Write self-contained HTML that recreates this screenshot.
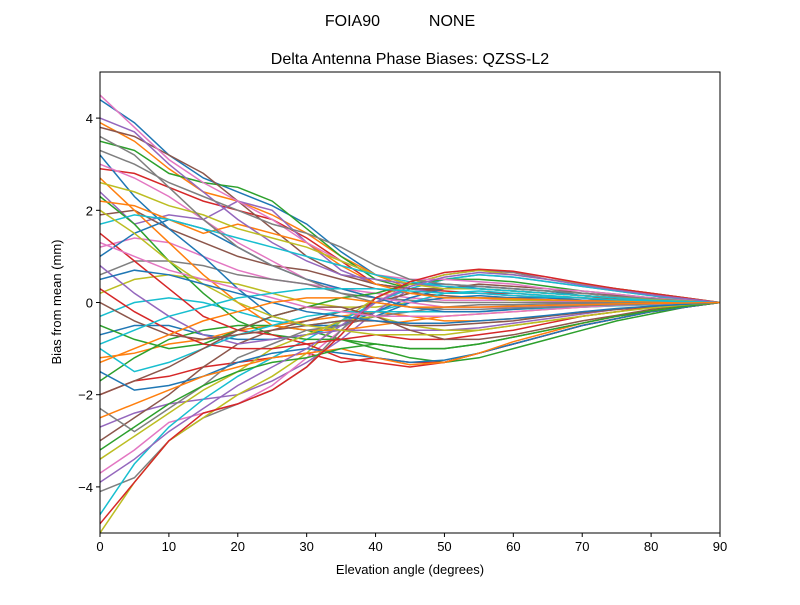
<!DOCTYPE html>
<html><head><meta charset="utf-8"><style>
body{margin:0;background:#fff}
svg text{font-family:"Liberation Sans","DejaVu Sans",sans-serif;fill:#000}
</style></head><body>
<svg id="chart" width="800" height="600" viewBox="0 0 800 600">
<rect width="800" height="600" fill="#fff"/>
<text x="400" y="26" font-size="16" text-anchor="middle" xml:space="preserve">FOIA90           NONE</text>
<text x="410" y="64" font-size="16" text-anchor="middle">Delta Antenna Phase Biases: QZSS-L2</text>
<defs><clipPath id="pc"><rect x="100" y="72" width="620" height="461"/></clipPath></defs>
<g id="lines" clip-path="url(#pc)"></g>
<rect x="100" y="72" width="620" height="461" fill="none" stroke="#000" stroke-width="1"/>
<g id="axes"></g>
<text x="410" y="574" font-size="13" text-anchor="middle">Elevation angle (degrees)</text>
<text transform="translate(61,302) rotate(-90)" font-size="13" text-anchor="middle">Bias from mean (mm)</text>
</svg>
<script>
const elevations=[0,5,10,15,20,25,30,35,40,45,50,55,60,65,70,75,80,85,90];
const xTicks=[0,10,20,30,40,50,60,70,80,90];
const yTicks=[-4,-2,0,2,4];
const s1=[4.4,3.9,3.2,2.7,2.4,2.1,1.7,1.1,0.6,0.4,0.4,0.35,0.3,0.25,0.2,0.15,0.1,0.05,0];
const s2=[3.9,3.5,2.9,2.4,2.2,1.9,1.5,1.0,0.6,0.3,0.2,0.2,0.15,0.1,0.1,0.05,0.05,0.02,0];
const s3=[3.5,3.3,2.8,2.6,2.5,2.2,1.6,1.0,0.5,0.3,0.3,0.3,0.25,0.2,0.15,0.1,0.05,0.02,0];
const s4=[2.9,2.8,2.5,2.2,2.0,1.8,1.4,0.9,0.4,0.3,0.25,0.2,0.2,0.15,0.1,0.08,0.05,0.02,0];
const s5=[2.4,1.7,1.9,1.8,2.2,2.0,1.3,0.7,0.4,0.3,0.2,0.2,0.15,0.1,0.1,0.05,0.03,0.01,0];
const s6=[1.9,2.0,1.6,1.3,1.0,0.8,0.7,0.5,0.3,0.2,0.15,0.1,0.1,0.1,0.05,0.05,0.02,0.01,0];
const s7=[1.2,1.4,1.3,1.0,0.7,0.5,0.4,0.3,0.2,0.1,0.05,0.05,0.05,0.03,0.02,0.01,0.01,0,0];
const s8=[0.6,0.9,0.9,0.8,0.6,0.5,0.4,0.2,0.1,0.05,0,0,0,0,0,0,0,0,0];
const s9=[0.2,0.5,0.6,0.5,0.4,0.2,0.0,-0.1,-0.1,0,0.1,0.1,0.05,0.05,0.05,0.02,0.01,0,0];
const s10=[-0.3,0.0,0.1,0.0,-0.2,-0.4,-0.5,-0.4,-0.2,0.0,0.2,0.25,0.2,0.15,0.1,0.05,0.03,0.01,0];
const s11=[-0.7,-0.5,-0.5,-0.7,-0.8,-0.8,-0.7,-0.5,-0.2,0.1,0.3,0.35,0.3,0.25,0.15,0.1,0.05,0.02,0];
const s12=[-1.2,-1.1,-0.9,-0.8,-0.6,-0.5,-0.4,-0.3,-0.2,-0.3,-0.4,-0.4,-0.35,-0.3,-0.2,-0.15,-0.1,-0.05,0];
const s13=[-1.7,-1.2,-0.8,-0.6,-0.5,-0.5,-0.6,-0.8,-1.0,-1.2,-1.3,-1.2,-1.0,-0.8,-0.6,-0.4,-0.25,-0.1,0];
const s14=[-2.0,-1.7,-1.6,-1.4,-1.3,-1.2,-1.1,-1.3,-1.2,-1.3,-1.3,-1.1,-0.9,-0.7,-0.5,-0.35,-0.2,-0.1,0];
const s15=[-2.7,-2.4,-2.2,-2.1,-2.0,-1.7,-1.3,-0.8,-0.2,0.3,0.5,0.6,0.55,0.45,0.35,0.25,0.15,0.05,0];
const s16=[-3.0,-2.5,-2.0,-1.4,-0.9,-0.6,-0.4,-0.2,0.0,0.2,0.3,0.4,0.35,0.3,0.2,0.15,0.1,0.05,0];
const s17=[-3.7,-3.2,-2.6,-2.4,-2.2,-1.8,-1.2,-0.6,0.0,0.4,0.6,0.7,0.65,0.55,0.4,0.3,0.2,0.1,0];
const s18=[-4.1,-3.8,-3.0,-2.5,-2.2,-1.9,-1.4,-0.6,0.1,0.4,0.6,0.7,0.65,0.5,0.4,0.3,0.2,0.1,0];
const s19=[-5.0,-3.9,-3.0,-2.5,-2.0,-1.6,-1.1,-0.4,0.1,0.4,0.6,0.7,0.6,0.5,0.4,0.3,0.2,0.1,0];
const s20=[-4.6,-3.5,-2.7,-2.1,-1.6,-1.2,-0.8,-0.4,0.0,0.3,0.5,0.6,0.55,0.45,0.35,0.25,0.15,0.07,0];
const s21=[3.2,2.3,1.6,1.0,0.3,-0.3,-0.5,-0.5,-0.3,0.0,0.1,0.15,0.1,0.1,0.05,0.05,0.02,0.01,0];
const s22=[2.7,2.0,1.3,0.6,0.0,-0.5,-0.6,-0.6,-0.5,-0.4,-0.3,-0.25,-0.2,-0.15,-0.1,-0.07,-0.05,-0.02,0];
const s23=[2.3,1.7,0.9,0.2,-0.4,-0.7,-0.8,-0.8,-0.9,-1.0,-1.0,-0.9,-0.75,-0.6,-0.45,-0.3,-0.2,-0.1,0];
const s24=[1.5,0.9,0.3,-0.3,-0.6,-0.7,-0.9,-1.2,-1.3,-1.4,-1.3,-1.1,-0.9,-0.7,-0.5,-0.35,-0.2,-0.1,0];
const s25=[0.8,0.2,-0.3,-0.7,-0.9,-0.8,-0.7,-0.6,-0.6,-0.6,-0.6,-0.55,-0.45,-0.35,-0.25,-0.15,-0.1,-0.05,0];
const s26=[3.8,3.6,3.2,2.8,2.2,1.6,1.0,0.6,0.4,0.3,0.3,0.3,0.25,0.2,0.15,0.1,0.05,0.02,0];
const s27=[3.0,2.7,2.3,1.8,1.3,0.9,0.5,0.3,0.1,0.0,-0.1,-0.1,-0.1,-0.08,-0.06,-0.04,-0.02,-0.01,0];
const s28=[-2.3,-2.8,-2.3,-1.8,-1.2,-0.9,-0.6,-0.5,-0.3,-0.2,-0.1,-0.05,-0.05,-0.03,-0.02,-0.01,0,0,0];
const s29=[-3.4,-2.9,-2.4,-1.9,-1.5,-1.0,-0.7,-0.4,-0.3,-0.5,-0.6,-0.6,-0.5,-0.4,-0.3,-0.2,-0.1,-0.05,0];
const s30=[-1.0,-1.5,-1.3,-1.0,-0.7,-0.5,-0.3,-0.2,-0.2,-0.2,-0.2,-0.2,-0.15,-0.12,-0.1,-0.07,-0.05,-0.02,0];
const s31=[1.0,1.5,1.8,1.6,1.2,0.8,0.5,0.3,0.1,-0.1,-0.2,-0.2,-0.15,-0.1,-0.08,-0.05,-0.03,-0.01,0];
const s32=[2.2,2.1,1.8,1.5,1.7,1.5,1.3,0.8,0.4,0.2,0.1,0.1,0.08,0.06,0.04,0.03,0.02,0.01,0];
const s33=[-0.5,-0.8,-1.0,-0.9,-0.6,-0.3,-0.1,0.1,0.2,0.4,0.5,0.5,0.45,0.35,0.25,0.18,0.1,0.05,0];
const s34=[0.3,-0.2,-0.6,-0.9,-1.0,-1.0,-0.9,-0.8,-0.7,-0.8,-0.8,-0.7,-0.6,-0.45,-0.3,-0.2,-0.1,-0.05,0];
const s35=[4.0,3.7,3.0,2.4,1.8,1.3,0.9,0.6,0.5,0.4,0.35,0.3,0.25,0.2,0.15,0.1,0.06,0.03,0];
const s36=[-2.0,-1.7,-1.4,-1.0,-0.6,-0.3,-0.1,-0.1,-0.3,-0.6,-0.8,-0.8,-0.7,-0.55,-0.4,-0.28,-0.15,-0.07,0];
const s37=[4.5,3.8,3.1,2.6,2.2,1.8,1.3,0.9,0.6,0.5,0.5,0.45,0.4,0.3,0.25,0.18,0.1,0.05,0];
const s38=[3.3,3.0,2.6,2.3,2.0,1.7,1.5,1.2,0.8,0.5,0.4,0.35,0.3,0.25,0.2,0.13,0.08,0.04,0];
const s39=[2.6,2.4,2.1,1.9,1.6,1.4,1.2,0.9,0.6,0.4,0.3,0.3,0.25,0.2,0.15,0.1,0.06,0.03,0];
const s40=[1.7,1.9,1.8,1.6,1.4,1.2,1.0,0.8,0.6,0.45,0.35,0.3,0.25,0.2,0.15,0.1,0.05,0.02,0];
const s41=[-1.5,-1.9,-1.8,-1.6,-1.3,-1.1,-1.0,-1.1,-1.2,-1.3,-1.25,-1.1,-0.9,-0.7,-0.5,-0.35,-0.2,-0.1,0];
const s42=[-2.5,-2.2,-1.9,-1.6,-1.4,-1.2,-1.1,-1.0,-1.2,-1.35,-1.3,-1.1,-0.85,-0.65,-0.45,-0.3,-0.18,-0.08,0];
const s43=[-3.2,-2.7,-2.2,-1.8,-1.5,-1.3,-1.2,-1.0,-0.9,-1.0,-1.0,-0.9,-0.75,-0.6,-0.45,-0.3,-0.18,-0.08,0];
const s44=[-4.8,-3.9,-3.0,-2.4,-2.2,-1.9,-1.4,-0.7,0.1,0.45,0.65,0.72,0.68,0.55,0.42,0.3,0.2,0.1,0];
const s45=[-3.9,-3.4,-2.8,-2.3,-1.8,-1.4,-1.0,-0.5,0.0,0.35,0.55,0.65,0.6,0.5,0.38,0.27,0.17,0.08,0];
const s46=[0.0,-0.4,-0.7,-0.8,-0.7,-0.6,-0.5,-0.4,-0.4,-0.5,-0.5,-0.45,-0.4,-0.3,-0.22,-0.15,-0.08,-0.04,0];
const s47=[1.3,1.0,0.7,0.5,0.3,0.1,-0.1,-0.2,-0.3,-0.3,-0.3,-0.25,-0.2,-0.15,-0.1,-0.06,-0.04,-0.02,0];
const s48=[3.6,3.2,2.5,1.8,1.2,0.8,0.5,0.2,0.0,-0.1,-0.15,-0.15,-0.12,-0.1,-0.07,-0.05,-0.03,-0.01,0];
const s49=[2.0,1.5,0.9,0.4,0.0,-0.3,-0.5,-0.6,-0.7,-0.7,-0.7,-0.6,-0.5,-0.4,-0.3,-0.2,-0.12,-0.05,0];
const s50=[-0.9,-0.6,-0.3,-0.1,0.1,0.2,0.3,0.3,0.3,0.25,0.2,0.2,0.15,0.12,0.1,0.06,0.04,0.02,0];
const s51=[0.5,0.7,0.6,0.4,0.2,0.0,-0.2,-0.3,-0.4,-0.45,-0.45,-0.4,-0.35,-0.28,-0.2,-0.13,-0.08,-0.04,0];
const s52=[-1.3,-1.0,-0.7,-0.4,-0.2,0.0,0.1,0.1,0.0,-0.1,-0.1,-0.1,-0.08,-0.06,-0.05,-0.03,-0.02,-0.01,0];
const series=[s1,s2,s3,s4,s5,s6,s7,s8,s9,s10,s11,s12,s13,s14,s15,s16,s17,s18,s19,s20,s21,s22,s23,s24,s25,s26,s27,s28,s29,s30,s31,s32,s33,s34,s35,s36,s37,s38,s39,s40,s41,s42,s43,s44,s45,s46,s47,s48,s49,s50,s51,s52];
const colors=['#1f77b4','#ff7f0e','#2ca02c','#d62728','#9467bd','#8c564b','#e377c2','#7f7f7f','#bcbd22','#17becf'];
const NS='http://www.w3.org/2000/svg';
const X0=100,X1=720,Y0=533,Y1=72;
function xs(v){return X0+(v-0)/(90-0)*(X1-X0);}
function ys(v){return Y0-(v+5)/10*(Y0-Y1);}
const lg=document.getElementById('lines');
series.forEach((s,i)=>{
  const p=document.createElementNS(NS,'polyline');
  p.setAttribute('points',s.map((v,j)=>xs(elevations[j]).toFixed(1)+','+ys(v).toFixed(1)).join(' '));
  p.setAttribute('fill','none');
  p.setAttribute('stroke',colors[i%10]);
  p.setAttribute('stroke-width','1.5');
  
  
  lg.appendChild(p);
});
const ax=document.getElementById('axes');
xTicks.forEach(t=>{
  const l=document.createElementNS(NS,'line');
  l.setAttribute('x1',xs(t));l.setAttribute('x2',xs(t));l.setAttribute('y1',Y0);l.setAttribute('y2',Y0+4);l.setAttribute('stroke','#000');
  
  
  ax.appendChild(l);
  const tx=document.createElementNS(NS,'text');
  tx.setAttribute('x',xs(t));tx.setAttribute('y',Y0+18);tx.setAttribute('font-size','13');tx.setAttribute('text-anchor','middle');
  tx.textContent=t;
  
  
  ax.appendChild(tx);
});
yTicks.forEach(t=>{
  const l=document.createElementNS(NS,'line');
  l.setAttribute('x1',X0-4);l.setAttribute('x2',X0);l.setAttribute('y1',ys(t));l.setAttribute('y2',ys(t));l.setAttribute('stroke','#000');
  
  
  ax.appendChild(l);
  const tx=document.createElementNS(NS,'text');
  tx.setAttribute('x',X0-7);tx.setAttribute('y',ys(t)+5);tx.setAttribute('font-size','13');tx.setAttribute('text-anchor','end');
  tx.textContent=t<0?'\u2212'+Math.abs(t):String(t);
  
  
  ax.appendChild(tx);
});
</script>
</body></html>
